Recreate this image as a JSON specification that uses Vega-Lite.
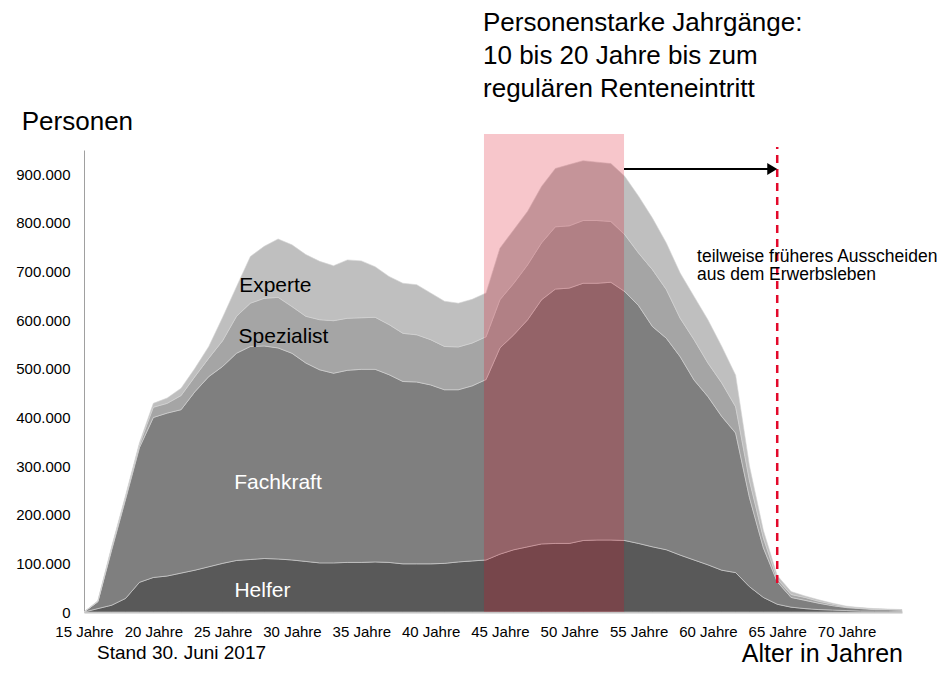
{
  "$schema": "https://vega.github.io/schema/vega-lite/v6.json",
  "width": 818,
  "height": 462,
  "autosize": {"type": "none"},
  "padding": {"left": 84, "top": 150, "right": 47, "bottom": 72},
  "config": {"view": {"stroke": null}, "font": "Liberation Sans", "text": {"font": "Liberation Sans"}},
  "data": {"values": [
    {"age":15,"group":"Helfer","n":0},{"age":15,"group":"Fachkraft","n":0},{"age":15,"group":"Spezialist","n":0},{"age":15,"group":"Experte","n":0},
    {"age":16,"group":"Helfer","n":7000},{"age":16,"group":"Fachkraft","n":14000},{"age":16,"group":"Spezialist","n":1000},{"age":16,"group":"Experte","n":1000},
    {"age":17,"group":"Helfer","n":14000},{"age":17,"group":"Fachkraft","n":114000},{"age":17,"group":"Spezialist","n":4000},{"age":17,"group":"Experte","n":3000},
    {"age":18,"group":"Helfer","n":28000},{"age":18,"group":"Fachkraft","n":204000},{"age":18,"group":"Spezialist","n":4000},{"age":18,"group":"Experte","n":4000},
    {"age":19,"group":"Helfer","n":61000},{"age":19,"group":"Fachkraft","n":277000},{"age":19,"group":"Spezialist","n":6000},{"age":19,"group":"Experte","n":4000},
    {"age":20,"group":"Helfer","n":71000},{"age":20,"group":"Fachkraft","n":329000},{"age":20,"group":"Spezialist","n":21000},{"age":20,"group":"Experte","n":8000},
    {"age":21,"group":"Helfer","n":74000},{"age":21,"group":"Fachkraft","n":335000},{"age":21,"group":"Spezialist","n":20000},{"age":21,"group":"Experte","n":11000},
    {"age":22,"group":"Helfer","n":80000},{"age":22,"group":"Fachkraft","n":336000},{"age":22,"group":"Spezialist","n":29000},{"age":22,"group":"Experte","n":15000},
    {"age":23,"group":"Helfer","n":86000},{"age":23,"group":"Fachkraft","n":367000},{"age":23,"group":"Spezialist","n":31000},{"age":23,"group":"Experte","n":17000},
    {"age":24,"group":"Helfer","n":93000},{"age":24,"group":"Fachkraft","n":391000},{"age":24,"group":"Spezialist","n":38000},{"age":24,"group":"Experte","n":24000},
    {"age":25,"group":"Helfer","n":100000},{"age":25,"group":"Fachkraft","n":405000},{"age":25,"group":"Spezialist","n":53000},{"age":25,"group":"Experte","n":48000},
    {"age":26,"group":"Helfer","n":106000},{"age":26,"group":"Fachkraft","n":426000},{"age":26,"group":"Spezialist","n":76000},{"age":26,"group":"Experte","n":61000},
    {"age":27,"group":"Helfer","n":108000},{"age":27,"group":"Fachkraft","n":438000},{"age":27,"group":"Spezialist","n":89000},{"age":27,"group":"Experte","n":96000},
    {"age":28,"group":"Helfer","n":110000},{"age":28,"group":"Fachkraft","n":437000},{"age":28,"group":"Spezialist","n":98000},{"age":28,"group":"Experte","n":107000},
    {"age":29,"group":"Helfer","n":109000},{"age":29,"group":"Fachkraft","n":434000},{"age":29,"group":"Spezialist","n":104000},{"age":29,"group":"Experte","n":120000},
    {"age":30,"group":"Helfer","n":107000},{"age":30,"group":"Fachkraft","n":425000},{"age":30,"group":"Spezialist","n":96000},{"age":30,"group":"Experte","n":127000},
    {"age":31,"group":"Helfer","n":104000},{"age":31,"group":"Fachkraft","n":408000},{"age":31,"group":"Spezialist","n":96000},{"age":31,"group":"Experte","n":127000},
    {"age":32,"group":"Helfer","n":101000},{"age":32,"group":"Fachkraft","n":397000},{"age":32,"group":"Spezialist","n":103000},{"age":32,"group":"Experte","n":120000},
    {"age":33,"group":"Helfer","n":101000},{"age":33,"group":"Fachkraft","n":390000},{"age":33,"group":"Spezialist","n":108000},{"age":33,"group":"Experte","n":113000},
    {"age":34,"group":"Helfer","n":102000},{"age":34,"group":"Fachkraft","n":395000},{"age":34,"group":"Spezialist","n":107000},{"age":34,"group":"Experte","n":120000},
    {"age":35,"group":"Helfer","n":102000},{"age":35,"group":"Fachkraft","n":397000},{"age":35,"group":"Spezialist","n":106000},{"age":35,"group":"Experte","n":117000},
    {"age":36,"group":"Helfer","n":103000},{"age":36,"group":"Fachkraft","n":396000},{"age":36,"group":"Spezialist","n":107000},{"age":36,"group":"Experte","n":104000},
    {"age":37,"group":"Helfer","n":102000},{"age":37,"group":"Fachkraft","n":386000},{"age":37,"group":"Spezialist","n":103000},{"age":37,"group":"Experte","n":99000},
    {"age":38,"group":"Helfer","n":99000},{"age":38,"group":"Fachkraft","n":375000},{"age":38,"group":"Spezialist","n":99000},{"age":38,"group":"Experte","n":103000},
    {"age":39,"group":"Helfer","n":99000},{"age":39,"group":"Fachkraft","n":374000},{"age":39,"group":"Spezialist","n":97000},{"age":39,"group":"Experte","n":103000},
    {"age":40,"group":"Helfer","n":99000},{"age":40,"group":"Fachkraft","n":368000},{"age":40,"group":"Spezialist","n":93000},{"age":40,"group":"Experte","n":96000},
    {"age":41,"group":"Helfer","n":100000},{"age":41,"group":"Fachkraft","n":357000},{"age":41,"group":"Spezialist","n":89000},{"age":41,"group":"Experte","n":93000},
    {"age":42,"group":"Helfer","n":103000},{"age":42,"group":"Fachkraft","n":354000},{"age":42,"group":"Spezialist","n":88000},{"age":42,"group":"Experte","n":90000},
    {"age":43,"group":"Helfer","n":105000},{"age":43,"group":"Fachkraft","n":360000},{"age":43,"group":"Spezialist","n":88000},{"age":43,"group":"Experte","n":90000},
    {"age":44,"group":"Helfer","n":107000},{"age":44,"group":"Fachkraft","n":371000},{"age":44,"group":"Spezialist","n":88000},{"age":44,"group":"Experte","n":90000},
    {"age":45,"group":"Helfer","n":119000},{"age":45,"group":"Fachkraft","n":424000},{"age":45,"group":"Spezialist","n":99000},{"age":45,"group":"Experte","n":106000},
    {"age":46,"group":"Helfer","n":128000},{"age":46,"group":"Fachkraft","n":442000},{"age":46,"group":"Spezialist","n":106000},{"age":46,"group":"Experte","n":110000},
    {"age":47,"group":"Helfer","n":134000},{"age":47,"group":"Fachkraft","n":467000},{"age":47,"group":"Spezialist","n":113000},{"age":47,"group":"Experte","n":110000},
    {"age":48,"group":"Helfer","n":140000},{"age":48,"group":"Fachkraft","n":502000},{"age":48,"group":"Spezialist","n":117000},{"age":48,"group":"Experte","n":116000},
    {"age":49,"group":"Helfer","n":141000},{"age":49,"group":"Fachkraft","n":523000},{"age":49,"group":"Spezialist","n":128000},{"age":49,"group":"Experte","n":120000},
    {"age":50,"group":"Helfer","n":141000},{"age":50,"group":"Fachkraft","n":525000},{"age":50,"group":"Spezialist","n":128000},{"age":50,"group":"Experte","n":126000},
    {"age":51,"group":"Helfer","n":147000},{"age":51,"group":"Fachkraft","n":529000},{"age":51,"group":"Spezialist","n":129000},{"age":51,"group":"Experte","n":123000},
    {"age":52,"group":"Helfer","n":148000},{"age":52,"group":"Fachkraft","n":528000},{"age":52,"group":"Spezialist","n":129000},{"age":52,"group":"Experte","n":120000},
    {"age":53,"group":"Helfer","n":148000},{"age":53,"group":"Fachkraft","n":530000},{"age":53,"group":"Spezialist","n":125000},{"age":53,"group":"Experte","n":119000},
    {"age":54,"group":"Helfer","n":147000},{"age":54,"group":"Fachkraft","n":512000},{"age":54,"group":"Spezialist","n":117000},{"age":54,"group":"Experte","n":120000},
    {"age":55,"group":"Helfer","n":141000},{"age":55,"group":"Fachkraft","n":489000},{"age":55,"group":"Spezialist","n":108000},{"age":55,"group":"Experte","n":117000},
    {"age":56,"group":"Helfer","n":134000},{"age":56,"group":"Fachkraft","n":453000},{"age":56,"group":"Spezialist","n":117000},{"age":56,"group":"Experte","n":106000},
    {"age":57,"group":"Helfer","n":128000},{"age":57,"group":"Fachkraft","n":435000},{"age":57,"group":"Spezialist","n":100000},{"age":57,"group":"Experte","n":96000},
    {"age":58,"group":"Helfer","n":117000},{"age":58,"group":"Fachkraft","n":408000},{"age":58,"group":"Spezialist","n":79000},{"age":58,"group":"Experte","n":93000},
    {"age":59,"group":"Helfer","n":107000},{"age":59,"group":"Fachkraft","n":370000},{"age":59,"group":"Spezialist","n":83000},{"age":59,"group":"Experte","n":89000},
    {"age":60,"group":"Helfer","n":97000},{"age":60,"group":"Fachkraft","n":346000},{"age":60,"group":"Spezialist","n":69000},{"age":60,"group":"Experte","n":89000},
    {"age":61,"group":"Helfer","n":86000},{"age":61,"group":"Fachkraft","n":316000},{"age":61,"group":"Spezialist","n":69000},{"age":61,"group":"Experte","n":75000},
    {"age":62,"group":"Helfer","n":81000},{"age":62,"group":"Fachkraft","n":287000},{"age":62,"group":"Spezialist","n":54000},{"age":62,"group":"Experte","n":65000},
    {"age":63,"group":"Helfer","n":52000},{"age":63,"group":"Fachkraft","n":183000},{"age":63,"group":"Spezialist","n":35000},{"age":63,"group":"Experte","n":30000},
    {"age":64,"group":"Helfer","n":30000},{"age":64,"group":"Fachkraft","n":102000},{"age":64,"group":"Spezialist","n":20000},{"age":64,"group":"Experte","n":16000},
    {"age":65,"group":"Helfer","n":16000},{"age":65,"group":"Fachkraft","n":46000},{"age":65,"group":"Spezialist","n":6000},{"age":65,"group":"Experte","n":7000},
    {"age":66,"group":"Helfer","n":10000},{"age":66,"group":"Fachkraft","n":20000},{"age":66,"group":"Spezialist","n":6000},{"age":66,"group":"Experte","n":6000},
    {"age":67,"group":"Helfer","n":7000},{"age":67,"group":"Fachkraft","n":17000},{"age":67,"group":"Spezialist","n":6000},{"age":67,"group":"Experte","n":3000},
    {"age":68,"group":"Helfer","n":5000},{"age":68,"group":"Fachkraft","n":13000},{"age":68,"group":"Spezialist","n":4000},{"age":68,"group":"Experte","n":3000},
    {"age":69,"group":"Helfer","n":4000},{"age":69,"group":"Fachkraft","n":9000},{"age":69,"group":"Spezialist","n":3000},{"age":69,"group":"Experte","n":2000},
    {"age":70,"group":"Helfer","n":3000},{"age":70,"group":"Fachkraft","n":6000},{"age":70,"group":"Spezialist","n":1000},{"age":70,"group":"Experte","n":2000},
    {"age":71,"group":"Helfer","n":2000},{"age":71,"group":"Fachkraft","n":5000},{"age":71,"group":"Spezialist","n":1000},{"age":71,"group":"Experte","n":1000},
    {"age":72,"group":"Helfer","n":2000},{"age":72,"group":"Fachkraft","n":3000},{"age":72,"group":"Spezialist","n":1000},{"age":72,"group":"Experte","n":1000},
    {"age":73,"group":"Helfer","n":2000},{"age":73,"group":"Fachkraft","n":3000},{"age":73,"group":"Spezialist","n":0},{"age":73,"group":"Experte","n":1000},
    {"age":74,"group":"Helfer","n":1000},{"age":74,"group":"Fachkraft","n":3000},{"age":74,"group":"Spezialist","n":0},{"age":74,"group":"Experte","n":1000}
  ]},
  "layer": [
    {
      "transform": [{"calculate": "indexof(['Helfer','Fachkraft','Spezialist','Experte'], datum.group)", "as": "stackRank"}],
      "mark": {"type": "area", "stroke": "#d4d4d4", "strokeWidth": 0.6, "opacity": 1},
      "encoding": {
        "x": {"field": "age", "type": "quantitative",
              "scale": {"domain": [15, 74], "nice": false, "zero": false},
              "axis": {"title": null, "values": [15,20,25,30,35,40,45,50,55,60,65,70], "labelExpr": "datum.value + ' Jahre'",
                       "grid": false, "ticks": false, "labelPadding": 12, "labelFontSize": 15, "labelColor": "#000000",
                       "labelFont": "Liberation Sans", "domainColor": "#bfbfbf", "domainWidth": 2, "labelFlush": false, "labelOverlap": false}},
        "y": {"field": "n", "type": "quantitative", "stack": "zero",
              "scale": {"domain": [0, 950000], "nice": false},
              "axis": {"title": null, "values": [0,100000,200000,300000,400000,500000,600000,700000,800000,900000],
                       "labelExpr": "replace(format(datum.value, ','), ',', '.')",
                       "grid": false, "ticks": false, "labelPadding": 14, "labelFontSize": 15, "labelColor": "#000000",
                       "labelFont": "Liberation Sans", "domainColor": "#a0a0a0", "domainWidth": 1}},
        "color": {"field": "group", "type": "nominal",
                  "scale": {"domain": ["Helfer", "Fachkraft", "Spezialist", "Experte"], "range": ["#595959", "#7f7f7f", "#a5a5a5", "#bfbfbf"]},
                  "legend": null},
        "order": {"field": "stackRank", "type": "quantitative", "sort": "ascending"}
      }
    },
    {"data": {"values": [{}]}, "mark": {"type": "text", "text": "Experte", "fontSize": 21, "align": "center", "baseline": "alphabetic", "color": "#000000"},
     "encoding": {"x": {"datum": 28.8, "type": "quantitative"}, "y": {"datum": 658600, "type": "quantitative"}}},
    {"data": {"values": [{}]}, "mark": {"type": "text", "text": "Spezialist", "fontSize": 21, "align": "center", "baseline": "alphabetic", "color": "#000000"},
     "encoding": {"x": {"datum": 29.39, "type": "quantitative"}, "y": {"datum": 552500, "type": "quantitative"}}},
    {"data": {"values": [{}]}, "mark": {"type": "text", "text": "Fachkraft", "fontSize": 21, "align": "center", "baseline": "alphabetic", "color": "#ffffff"},
     "encoding": {"x": {"datum": 28.99, "type": "quantitative"}, "y": {"datum": 252300, "type": "quantitative"}}},
    {"data": {"values": [{}]}, "mark": {"type": "text", "text": "Helfer", "fontSize": 21, "align": "center", "baseline": "alphabetic", "color": "#ffffff"},
     "encoding": {"x": {"datum": 27.87, "type": "quantitative"}, "y": {"datum": 31500, "type": "quantitative"}}},
    {"data": {"values": [{}]}, "mark": {"type": "rect", "color": "#dc0a1e", "opacity": 0.23},
     "encoding": {"x": {"datum": 43.85, "type": "quantitative"}, "x2": {"datum": 53.95}, "y": {"datum": 0, "type": "quantitative"}, "y2": {"datum": 983000}}},
    {"data": {"values": [{}]}, "mark": {"type": "rule", "color": "#e3092b", "strokeWidth": 2.5, "strokeDash": [8, 6]},
     "encoding": {"x": {"datum": 65, "type": "quantitative"}, "y": {"datum": 59600, "type": "quantitative"}, "y2": {"datum": 956000}}},
    {"data": {"values": [{}]}, "mark": {"type": "rule", "color": "#000000", "strokeWidth": 2},
     "encoding": {"x": {"datum": 53.95, "type": "quantitative"}, "x2": {"datum": 64.6}, "y": {"datum": 910900, "type": "quantitative"}}},
    {"data": {"values": [{}]}, "mark": {"type": "point", "shape": "M-0.83,-1L0.83,0L-0.83,1Z", "size": 144, "filled": true, "color": "#000000", "opacity": 1},
     "encoding": {"x": {"datum": 64.64, "type": "quantitative"}, "y": {"datum": 910900, "type": "quantitative"}}},
    {"data": {"values": [{}]}, "mark": {"type": "text", "text": ["teilweise früheres Ausscheiden", "aus dem Erwerbsleben"], "fontSize": 17.5, "lineHeight": 18.3, "align": "left", "baseline": "alphabetic", "color": "#000000"},
     "encoding": {"x": {"datum": 59.22, "type": "quantitative"}, "y": {"datum": 720300, "type": "quantitative"}}},
    {"data": {"values": [{}]}, "mark": {"type": "text", "text": ["Personenstarke Jahrgänge:", "10 bis 20 Jahre bis zum", "regulären Renteneintritt"], "fontSize": 26, "lineHeight": 33, "align": "left", "baseline": "alphabetic", "color": "#000000"},
     "encoding": {"x": {"datum": 43.78, "type": "quantitative"}, "y": {"datum": 1194700, "type": "quantitative"}}},
    {"data": {"values": [{}]}, "mark": {"type": "text", "text": "Personen", "fontSize": 26, "align": "left", "baseline": "alphabetic", "color": "#000000"},
     "encoding": {"x": {"datum": 10.51, "type": "quantitative"}, "y": {"datum": 991000, "type": "quantitative"}}},
    {"data": {"values": [{}]}, "mark": {"type": "text", "text": "Stand 30. Juni 2017", "fontSize": 19, "align": "left", "baseline": "alphabetic", "color": "#000000"},
     "encoding": {"x": {"datum": 15.94, "type": "quantitative"}, "y": {"datum": -96600, "type": "quantitative"}}},
    {"data": {"values": [{}]}, "mark": {"type": "text", "text": "Alter in Jahren", "fontSize": 25, "align": "right", "baseline": "alphabetic", "color": "#000000"},
     "encoding": {"x": {"datum": 74.07, "type": "quantitative"}, "y": {"datum": -102800, "type": "quantitative"}}}
  ]
}
